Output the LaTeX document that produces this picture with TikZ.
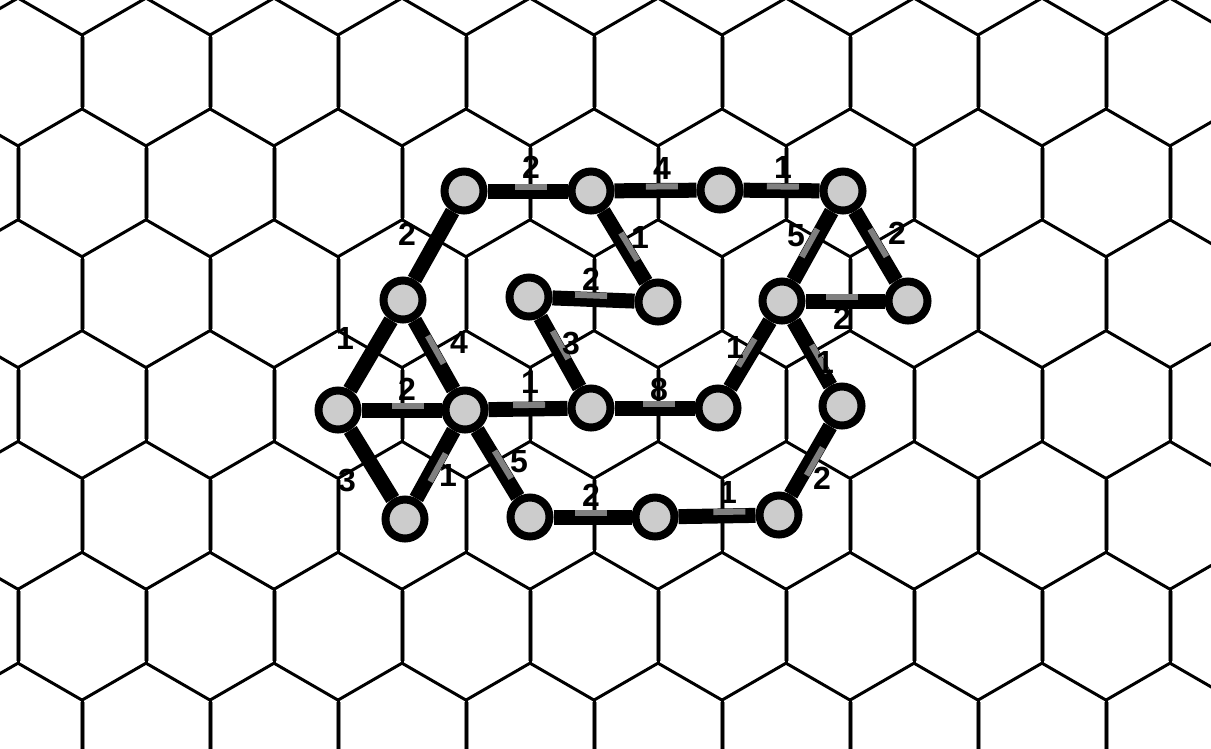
\documentclass[tikz,border=0pt]{standalone}
\usepackage{fontspec}
\setmainfont{Liberation Sans}
\usetikzlibrary{calc}
\definecolor{nodegray}{gray}{0.8}
\definecolor{markgray}{gray}{0.5}
\definecolor{shadegray}{gray}{0.55}
\pgfdeclarelayer{gridlayer}
\pgfdeclarelayer{edgelayer}
\pgfsetlayers{gridlayer,edgelayer,main}
\newcommand\gmark[4]{%
  \path (#1.center) -- (#2.center) coordinate[pos=#3] (gmc);
  \path ($(gmc)!16pt!(#1.center)$) coordinate (gmA) ($(gmc)!16pt!(#2.center)$) coordinate (gmB);
  \path ($(gmA)!4pt!#4:(gmB)$) coordinate (gmS);
  \draw[graymark] (gmS) -- ($(gmS)+(gmB)-(gmA)$);
}
\begin{document}
\begin{tikzpicture}[x=1pt,y=-1pt,
  gridline/.style={line width=3pt,black,line cap=round},
  gridshade/.style={line width=5pt,shadegray},
  gedge/.style={line width=15pt,black},
  vnode/.style={circle,draw=black,line width=8pt,fill=nodegray,minimum size=39pt,inner sep=0pt},
  wlabel/.style={font=\fontsize{32}{32}\selectfont\bfseries,inner sep=0pt},
  graymark/.style={line width=6pt,markgray}]
\useasboundingbox (0,0) rectangle (1211,748);
\begin{pgfonlayer}{gridlayer}
\clip (0,0) rectangle (1211,748);
\fill[white] (0,0) rectangle (1211,748);
\foreach \r in {-1,...,6}{
  \pgfmathsetmacro\ty{35+\r*110.85}
  \pgfmathsetmacro\by{\ty+73.9}
  \pgfmathsetmacro\dy{\by+36.95}
  \pgfmathsetmacro\xo{50+32*cos(180*\r)}
  \foreach \k in {-1,...,10}{
    \pgfmathsetmacro\xx{\xo+128*\k}
    \pgfmathsetmacro\xl{\xx-64}
    \pgfmathsetmacro\xr{\xx+64}
    \draw[gridshade] (\xx,\ty+2) -- (\xx,\by-2);
    \draw[gridline] (\xx,\ty) -- (\xx,\by);
    \draw[gridline] (\xl,\dy) -- (\xx,\by) -- (\xr,\dy);
  }
}
\end{pgfonlayer}
% nodes
\node[vnode] (A) at (464,191) {};
\node[vnode] (B) at (591,191) {};
\node[vnode] (C) at (720,190) {};
\node[vnode] (D) at (843,191) {};
\node[vnode] (E) at (658,302) {};
\node[vnode] (F) at (529,297) {};
\node[vnode] (G) at (403,300) {};
\node[vnode] (H) at (782,301) {};
\node[vnode] (I) at (908,301) {};
\node[vnode] (J) at (338,410) {};
\node[vnode] (K) at (465,410) {};
\node[vnode] (L) at (591,408) {};
\node[vnode] (M) at (718,408) {};
\node[vnode] (N) at (842,406) {};
\node[vnode] (O) at (405,519) {};
\node[vnode] (P) at (530,517) {};
\node[vnode] (Q) at (655,517) {};
\node[vnode] (R) at (779,515) {};
\begin{pgfonlayer}{edgelayer}
\draw[gedge] (A) -- (B);
\draw[gedge] (B) -- (C);
\draw[gedge] (C) -- (D);
\draw[gedge] (B) -- (E);
\draw[gedge] (F) -- (E);
\draw[gedge] (A) -- (G);
\draw[gedge] (G) -- (J);
\draw[gedge] (G) -- (K);
\draw[gedge] (J) -- (K);
\draw[gedge] (K) -- (L);
\draw[gedge] (F) -- (L);
\draw[gedge] (L) -- (M);
\draw[gedge] (H) -- (M);
\draw[gedge] (D) -- (H);
\draw[gedge] (D) -- (I);
\draw[gedge] (H) -- (I);
\draw[gedge] (H) -- (N);
\draw[gedge] (N) -- (R);
\draw[gedge] (Q) -- (R);
\draw[gedge] (P) -- (Q);
\draw[gedge] (K) -- (P);
\draw[gedge] (K) -- (O);
\draw[gedge] (J) -- (O);
% gray marks
\gmark{A}{B}{0.53}{90}
\gmark{B}{C}{0.55}{90}
\gmark{C}{D}{0.51}{90}
\gmark{F}{E}{0.48}{90}
\gmark{J}{K}{0.55}{90}
\gmark{K}{L}{0.51}{90}
\gmark{L}{M}{0.535}{90}
\gmark{H}{I}{0.48}{90}
\gmark{P}{Q}{0.49}{90}
\gmark{Q}{R}{0.60}{90}
\gmark{B}{E}{0.52}{90}
\gmark{G}{K}{0.47}{90}
\gmark{F}{L}{0.45}{90}
\gmark{H}{M}{0.50}{-90}
\gmark{D}{H}{0.49}{-90}
\gmark{D}{I}{0.49}{90}
\gmark{H}{N}{0.57}{90}
\gmark{N}{R}{0.49}{90}
\gmark{K}{P}{0.53}{90}
\gmark{K}{O}{0.51}{90}
\end{pgfonlayer}
% labels
\node[wlabel] (lAB) at (531,167) {2};
\node[wlabel] (lBC) at (662,168) {4};
\node[wlabel] (lCD) at (783,167) {1};
\node[wlabel] (lBE) at (640,237) {1};
\node[wlabel] (lFE) at (591,279) {2};
\node[wlabel] (lAG) at (407,234) {2};
\node[wlabel] (lGJ) at (345,338) {1};
\node[wlabel] (lGK) at (459,342) {4};
\node[wlabel] (lJK) at (407,389) {2};
\node[wlabel] (lKL) at (530,382) {1};
\node[wlabel] (lFL) at (571,343) {3};
\node[wlabel] (lLM) at (659,389) {8};
\node[wlabel] (lHM) at (735,347) {1};
\node[wlabel] (lDH) at (796,236) {5};
\node[wlabel] (lDI) at (897,233) {2};
\node[wlabel] (lHI) at (842,318) {2};
\node[wlabel] (lHN) at (825,362) {1};
\node[wlabel] (lNR) at (822,478) {2};
\node[wlabel] (lQR) at (728,492) {1};
\node[wlabel] (lPQ) at (591,495) {2};
\node[wlabel] (lKP) at (519,462) {5};
\node[wlabel] (lKO) at (448,475) {1};
\node[wlabel] (lJO) at (347,480) {3};
\end{tikzpicture}
\end{document}
